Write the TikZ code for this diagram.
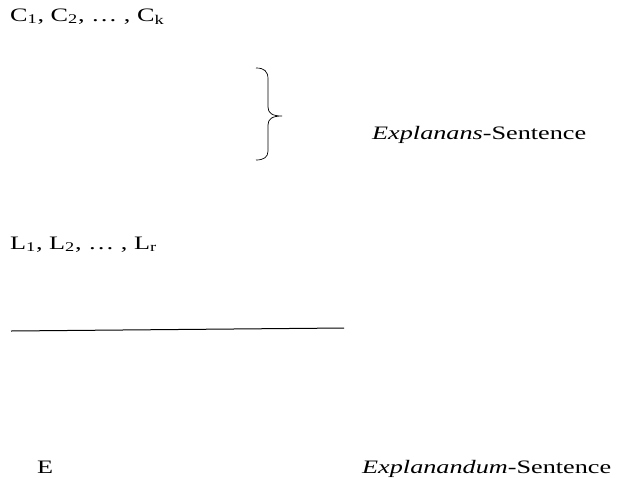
\documentclass[tikz,border=0pt]{standalone}
\usepackage{fontspec}
\setmainfont{Liberation Serif}
\usepackage{graphicx}
\newcommand{\widetext}[1]{\scalebox{1.38}[1]{#1}}
\tikzset{
  sent/.style={anchor=base west, inner sep=0pt, font=\fontsize{19}{22}\selectfont},
}
\begin{document}
\begin{tikzpicture}[x=1pt, y=-1pt]
\useasboundingbox (0,0) rectangle (618,477);
\node[sent] (cond) at (10,21) {\widetext{C\textsubscript{1}, C\textsubscript{2}, … , C\textsubscript{k}}};
\node[sent] (laws) at (10,249) {\widetext{L\textsubscript{1}, L\textsubscript{2}, … , L\textsubscript{r}}};
\node[sent] (explanans) at (372,139) {\widetext{\textit{Explanans}-Sentence}};
\node[sent] (event) at (37,473) {\widetext{E}};
\node[sent] (explanandum) at (362,473) {\widetext{\textit{Explanandum}-Sentence}};
\coordinate (bracetop) at (256,68);
\coordinate (bracetip) at (282,116);
\coordinate (bracebot) at (256,160);
\coordinate (ruleleft) at (11,331);
\coordinate (ruleright) at (344,328);
% curly bracket, drawn by hand
\draw[line width=0.7pt] (bracetop) .. controls (264,68) and (268,71) .. (268,79)
  -- (268,107) .. controls (268,113) and (272,116) .. (bracetip)
  .. controls (272,116) and (268,119) .. (268,125)
  -- (268,151) .. controls (268,157) and (264,160) .. (bracebot);
\draw[line width=1pt] (ruleleft) -- (ruleright);
\end{tikzpicture}
\end{document}
